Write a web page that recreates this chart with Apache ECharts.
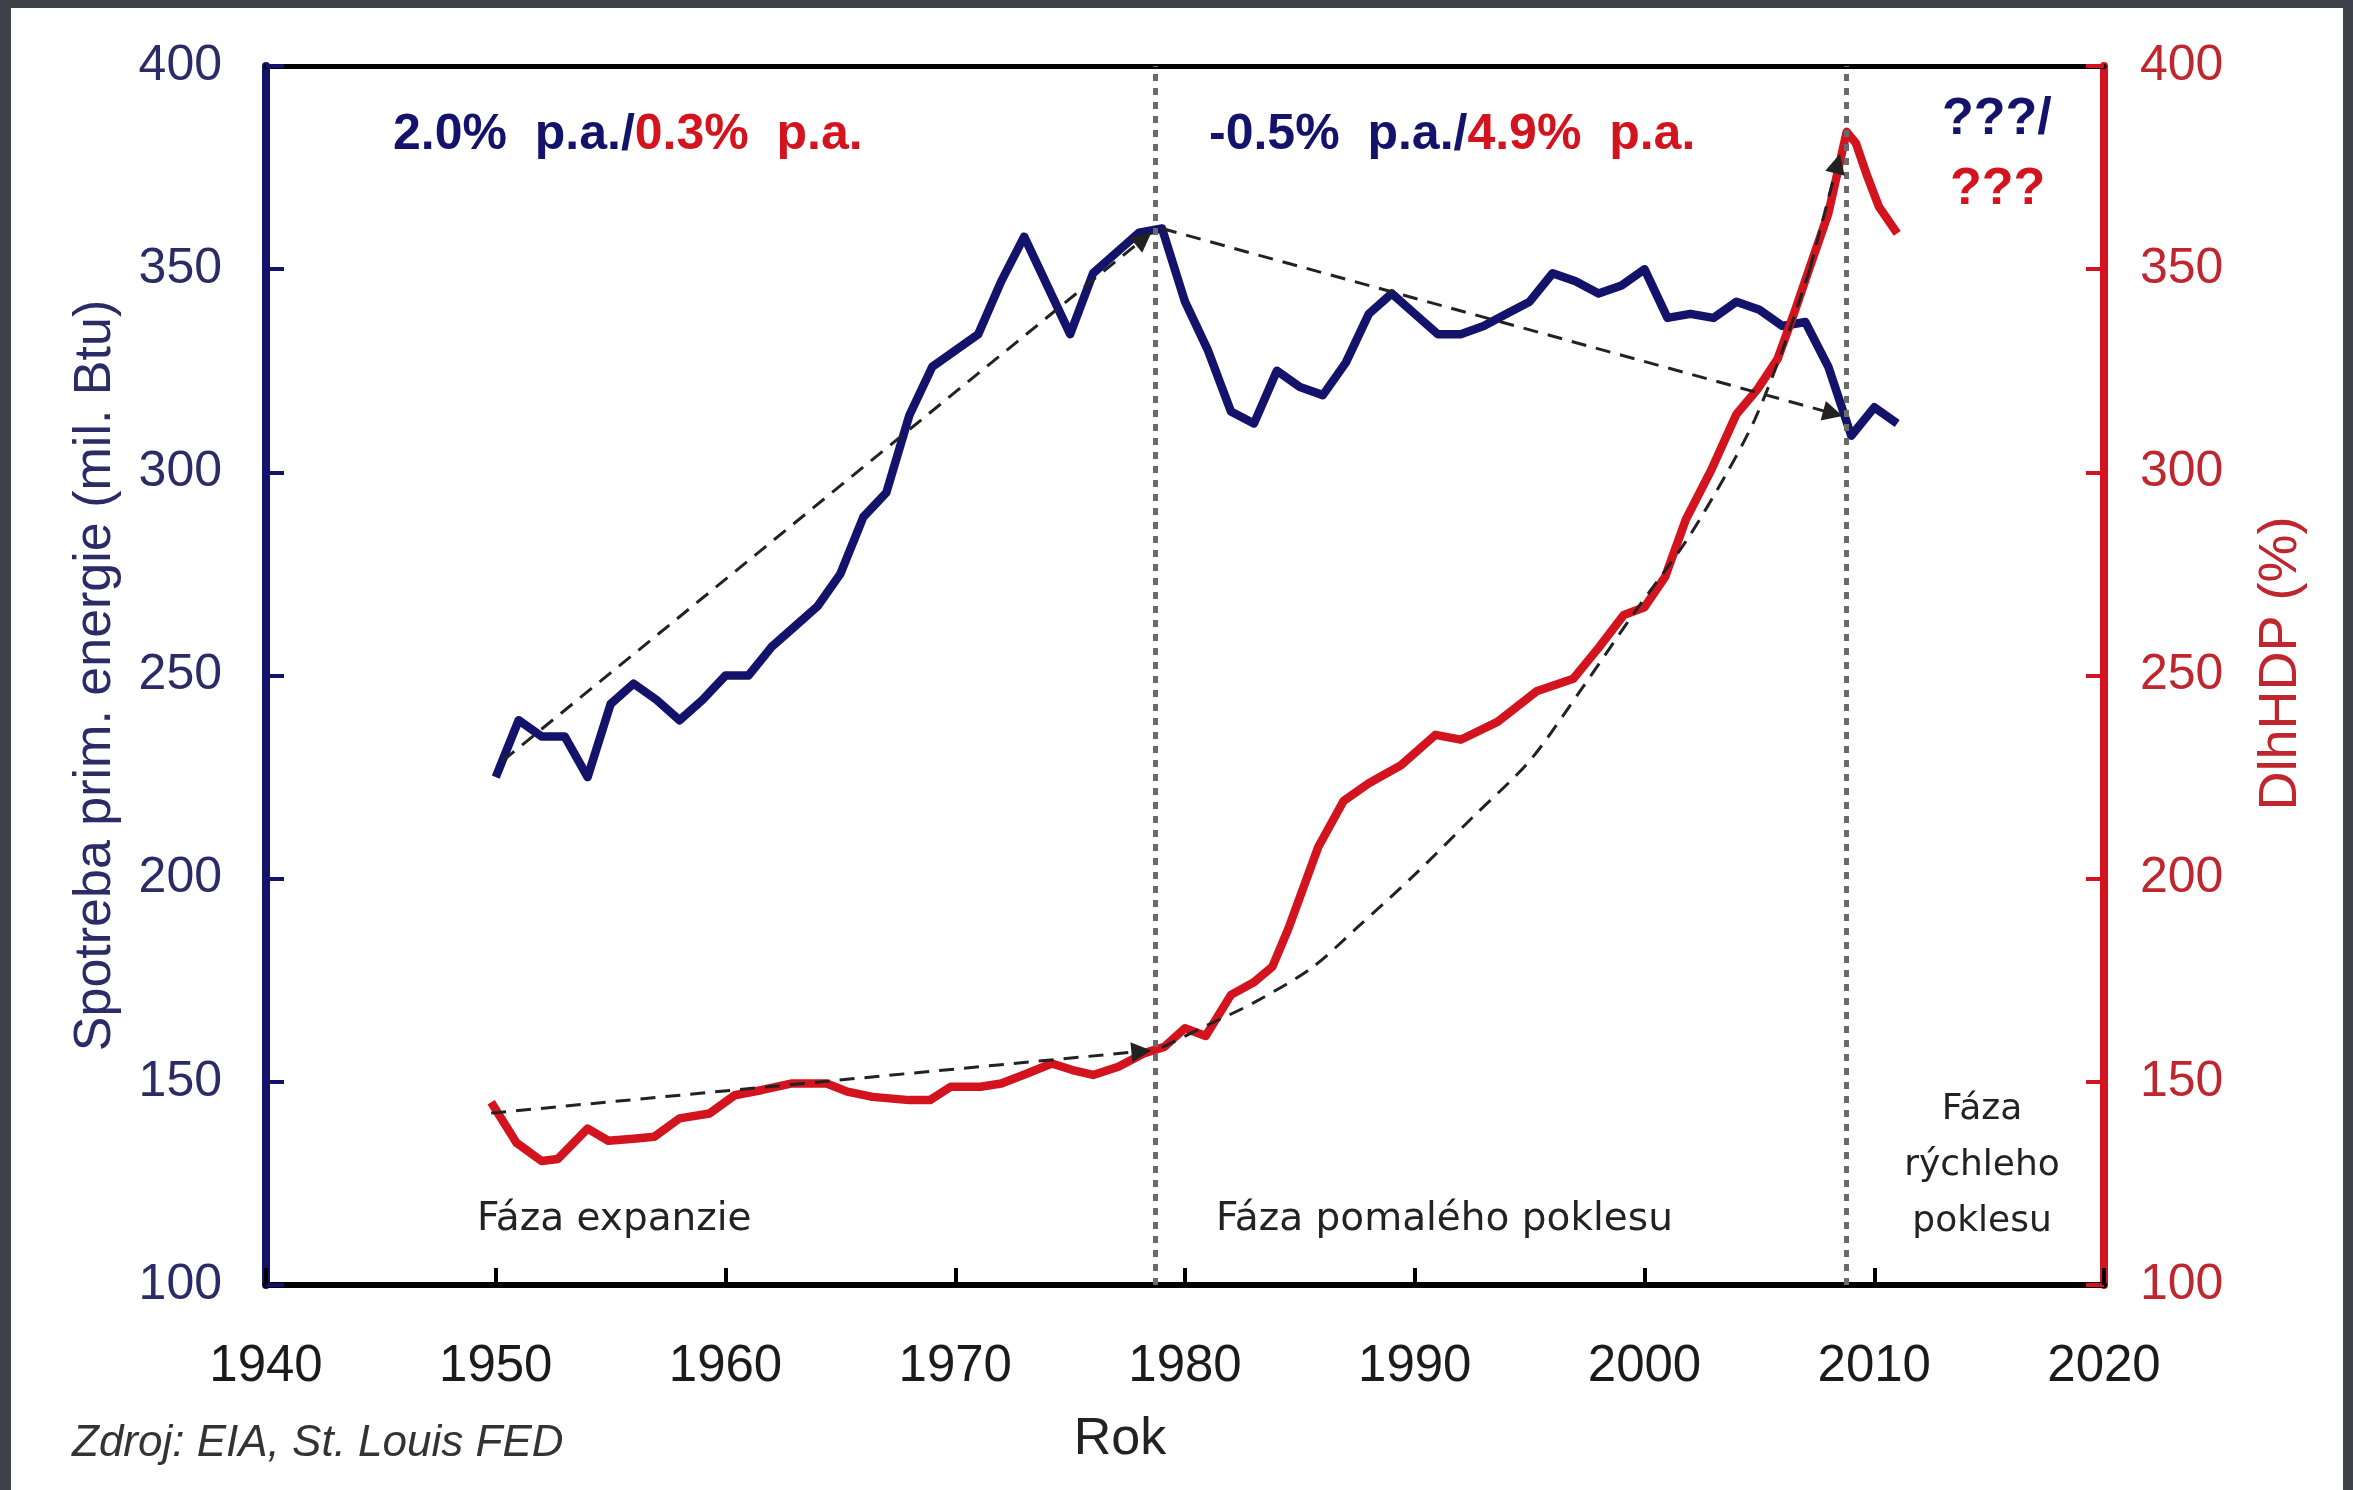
<!DOCTYPE html>
<html><head><meta charset="utf-8">
<script src="https://cdn.jsdelivr.net/npm/echarts@6/dist/echarts.min.js"></script>
<style>
html,body{margin:0;padding:0;background:#3e4149;width:2353px;height:1490px;overflow:hidden;}
#chart{position:absolute;left:11px;top:8px;width:2332px;height:1482px;background:#ffffff;}
</style></head><body><div id="chart"></div>
<script>
// ---- data ----
const xTicks = [1940, 2020, 10];           // min, max, step of the year axis
const yTicks = [100, 400, 50];             // min, max, step of both value axes

const energyYears = [1950,1951,1952,1953,1954,1955,1956,1957,1958,1959,1960,1961,1962,1963,1964,1965,1966,1967,1968,1969,1970,1971,1972,1973,1974,1975,1976,1977,1978,1979,1980,1981,1982,1983,1984,1985,1986,1987,1988,1989,1990,1991,1992,1993,1994,1995,1996,1997,1998,1999,2000,2001,2002,2003,2004,2005,2006,2007,2008,2009,2010,2011];
const energyValues = [225,239,235,235,225,243,248,244,239,244,250,250,257,262,267,275,289,295,314,326,330,334,347,358,346,334,349,354,359,360,342,330,315,312,325,321,319,327,339,344,339,334,334,336,339,342,349,347,344,346,350,338,339,338,342,340,336,337,326,309,316,312];

const debtYears = [1949.8,1950.9,1952.0,1952.7,1954.0,1954.9,1956.0,1956.9,1958.0,1959.3,1960.4,1961.6,1962.9,1964.4,1965.3,1966.4,1968.0,1968.9,1969.8,1971.1,1972.0,1973.1,1974.2,1975.1,1976.0,1977.1,1978.2,1979.1,1980.0,1980.9,1982.0,1983.0,1983.8,1984.5,1985.8,1986.9,1988.0,1989.4,1990.9,1992.0,1993.6,1995.3,1996.9,1998.0,1999.1,2000.0,2000.9,2001.8,2002.9,2004.0,2004.9,2005.8,2006.5,2007.3,2008.0,2008.8,2009.2,2009.7,2010.2,2011.0];
const debtValues = [145,135,130.5,131,138.5,135.5,136,136.5,141,142.2,146.7,148,149.6,149.6,147.6,146.3,145.5,145.5,148.8,148.8,149.6,152,154.5,152.9,151.7,153.7,157,158.6,163.2,161.3,171.4,174.5,178.3,187.7,207.8,219.1,223.5,227.9,235.4,234.2,238.6,246.1,249.2,256.8,264.9,266.8,274.3,288.4,300.5,314.3,320.3,328,339,352.2,363.7,383.8,381,372.8,365.4,358.8];

const phaseBoundaries = [1978.7, 2008.8];

// trend arrows: [x1, y1, x2, y2]
const trendEnergyUp   = [1950.3, 229, 1978.2, 357.5];
const trendEnergyDown = [1979.0, 360, 2008.2, 314.5];
const trendDebtFlat   = [1949.8, 142.3, 1978.1, 157.5];
const trendDebtCurveX = [1979.0,1981.0,1983.0,1985.5,1987.5,1990.0,1992.5,1995.0,1997.3,1999.5,2001.8,2003.6,2004.8,2006.0,2007.2,2008.4];
const trendDebtCurveV = [158.5,164,169.5,178,188,201,215,229,247,265,283,300,313,330,350,376];

const leftAxisTitle = 'Spotreba prim. energie (mil. Btu)';
const rightAxisTitle = 'DlhHDP (%)';
const xAxisTitle = 'Rok';
const sourceText = 'Zdroj: EIA, St. Louis FED';
const phaseLabels = ['Fáza expanzie', 'Fáza pomalého poklesu', 'Fáza\nrýchleho\npoklesu'];
const rateLabels = [['2.0%  p.a./', '0.3%  p.a.'], ['-0.5%  p.a./', '4.9%  p.a.'], ['???/', '???']];

// ---- styles ----
const NAVY = '#13136b';
const RED = '#d3141e';
const NAVY_T = '#2b2b68';
const RED_T = '#c0262e';
const ARIAL = '"Liberation Sans", Arial, sans-serif';
const VERD = '"DejaVu Sans", Verdana, sans-serif';

const pairs = (xs, ys) => xs.map((x, i) => [x, ys[i]]);
const seg = (t) => [{coord: [t[0], t[1]]}, {coord: [t[2], t[3]]}];
const n = trendDebtCurveX.length;

const chart = echarts.init(document.getElementById('chart'), null, {renderer: 'canvas'});
chart.setOption({
  animation: false,
  backgroundColor: '#ffffff',
  grid: {left: 255, right: 239, top: 58, bottom: 205, containLabel: false},
  xAxis: [{
    type: 'value', min: xTicks[0], max: xTicks[1], interval: xTicks[2], position: 'bottom',
    axisLine: {show: true, onZero: false, lineStyle: {color: '#000', width: 6}},
    axisTick: {show: true, inside: true, length: 17, lineStyle: {color: '#000', width: 4}},
    axisLabel: {fontSize: 51, color: '#1b1b1b', margin: 56, fontFamily: ARIAL, formatter: v => String(v)},
    splitLine: {show: false}
  }, {
    type: 'value', min: xTicks[0], max: xTicks[1], interval: xTicks[2], position: 'top',
    axisLine: {show: true, onZero: false, lineStyle: {color: '#000', width: 5}},
    axisTick: {show: false}, axisLabel: {show: false}, splitLine: {show: false}
  }],
  yAxis: [{
    type: 'value', min: yTicks[0], max: yTicks[1], interval: yTicks[2], position: 'left',
    axisLine: {show: true, lineStyle: {color: NAVY, width: 8}},
    axisTick: {show: true, inside: true, length: 18, lineStyle: {color: NAVY, width: 4}},
    axisLabel: {fontSize: 50, color: NAVY_T, margin: 44, fontFamily: ARIAL},
    splitLine: {show: false},
    name: leftAxisTitle, nameLocation: 'middle', nameGap: 144, nameRotate: 90,
    nameTextStyle: {fontSize: 52, color: NAVY_T, fontFamily: ARIAL}
  }, {
    type: 'value', min: yTicks[0], max: yTicks[1], interval: yTicks[2], position: 'right',
    axisLine: {show: true, lineStyle: {color: RED, width: 8}},
    axisTick: {show: true, inside: true, length: 18, lineStyle: {color: RED, width: 4}},
    axisLabel: {fontSize: 50, color: RED_T, margin: 36, fontFamily: ARIAL},
    splitLine: {show: false},
    name: rightAxisTitle, nameLocation: 'middle', nameGap: 150, nameRotate: 90,
    nameTextStyle: {fontSize: 54, color: RED_T, fontFamily: ARIAL, padding: [0, 0, 0, 24]}
  }],
  series: [{
    name: 'energy', type: 'line', xAxisIndex: 0, yAxisIndex: 0,
    data: pairs(energyYears, energyValues), showSymbol: false, symbol: 'none',
    lineStyle: {color: NAVY, width: 8.5, join: 'round'}, z: 3,
    markLine: {
      silent: true, symbol: ['none', 'none'], label: {show: false},
      lineStyle: {color: '#6a6a6a', width: 5, type: [7, 7]},
      data: phaseBoundaries.map(x => ({xAxis: x}))
    }
  }, {
    name: 'debt', type: 'line', xAxisIndex: 0, yAxisIndex: 1,
    data: pairs(debtYears, debtValues), showSymbol: false, symbol: 'none',
    lineStyle: {color: RED, width: 8.5, join: 'round'}, z: 4
  }, {
    name: 'trend', type: 'line', xAxisIndex: 0, yAxisIndex: 1,
    data: pairs(trendDebtCurveX, trendDebtCurveV).slice(0, n - 1), smooth: 0.3,
    showSymbol: false, symbol: 'none',
    lineStyle: {color: '#222', width: 3, type: [15, 10]}, z: 5,
    markLine: {
      silent: true, symbol: ['none', 'triangle'], symbolSize: 20, label: {show: false},
      lineStyle: {color: '#222', width: 3, type: [15, 10]},
      data: [
        seg(trendEnergyUp), seg(trendEnergyDown), seg(trendDebtFlat),
        seg([trendDebtCurveX[n - 2], trendDebtCurveV[n - 2], trendDebtCurveX[n - 1], trendDebtCurveV[n - 1]])
      ]
    }
  }],
  graphic: [
    {type: 'text', x: 382, y: 127, z: 10, style: {
      text: '{a|' + rateLabels[0][0] + '}{b|' + rateLabels[0][1] + '}', verticalAlign: 'middle', align: 'left',
      rich: {a: {fill: NAVY, font: 'bold 50px ' + ARIAL}, b: {fill: RED, font: 'bold 50px ' + ARIAL}}}},
    {type: 'text', x: 1198, y: 127, z: 10, style: {
      text: '{a|' + rateLabels[1][0] + '}{b|' + rateLabels[1][1] + '}', verticalAlign: 'middle', align: 'left',
      rich: {a: {fill: NAVY, font: 'bold 50px ' + ARIAL}, b: {fill: RED, font: 'bold 50px ' + ARIAL}}}},
    {type: 'text', x: 1931, y: 112, z: 10, style: {text: rateLabels[2][0], fill: NAVY, font: 'bold 52px ' + ARIAL, verticalAlign: 'middle', align: 'left'}},
    {type: 'text', x: 1939, y: 182, z: 10, style: {text: rateLabels[2][1], fill: RED, font: 'bold 52px ' + ARIAL, verticalAlign: 'middle', align: 'left'}},
    {type: 'text', x: 466, y: 1212, z: 10, style: {text: phaseLabels[0], fill: '#222', font: '39px ' + VERD, verticalAlign: 'middle', align: 'left'}},
    {type: 'text', x: 1205, y: 1212, z: 10, style: {text: phaseLabels[1], fill: '#222', font: '39px ' + VERD, verticalAlign: 'middle', align: 'left'}},
    {type: 'text', x: 1971, y: 1074, z: 10, style: {text: phaseLabels[2], fill: '#222', font: '36px ' + VERD, lineHeight: 56, verticalAlign: 'top', align: 'center'}},
    {type: 'text', x: 1109, y: 1432, z: 10, style: {text: xAxisTitle, fill: '#222', font: '52px ' + ARIAL, verticalAlign: 'middle', align: 'center'}},
    {type: 'text', x: 61, y: 1436, z: 10, style: {text: sourceText, fill: '#333', font: 'italic 44px ' + ARIAL, verticalAlign: 'middle', align: 'left'}}
  ]
});
</script></body></html>
